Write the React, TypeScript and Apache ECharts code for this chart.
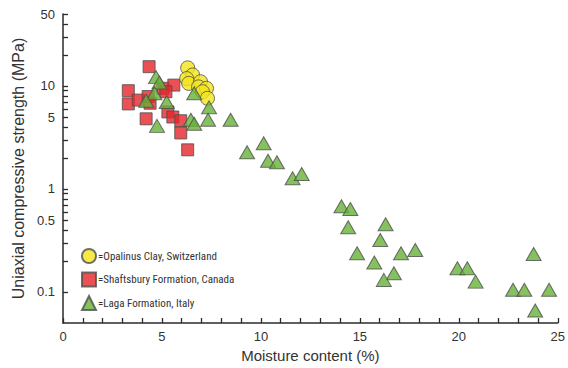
import React, { useEffect, useRef } from 'react';
import * as echarts from 'echarts';

// Moisture content (%), UCS (MPa)
const opalinusClay: [number, number][] = [
  [6.3, 15.0], [6.55, 12.8], [6.25, 11.8], [6.35, 10.6], [6.95, 11.0],
  [6.85, 9.8], [7.25, 9.5], [7.05, 8.8], [7.3, 7.6],
];
const shaftsburyFormation: [number, number][] = [
  [4.35, 15.4], [3.3, 9.0], [3.3, 6.7], [3.8, 7.3], [4.3, 7.9], [4.4, 6.8],
  [4.2, 4.8], [5.05, 9.5], [5.6, 10.2], [5.2, 8.8], [5.3, 5.6], [5.55, 5.0],
  [5.95, 4.6], [5.95, 3.5], [6.3, 2.4],
];
const lagaFormation: [number, number][] = [
  [4.7, 12.2], [4.87, 10.8], [4.62, 8.5], [4.2, 7.2], [5.24, 7.0], [4.75, 4.1],
  [6.63, 8.5], [7.38, 6.2], [6.46, 4.7], [6.63, 4.3], [7.33, 4.7], [8.47, 4.7],
  [10.14, 2.78], [9.3, 2.27], [10.36, 1.88], [10.81, 1.82], [11.6, 1.27], [12.06, 1.4],
  [14.07, 0.68], [14.52, 0.64], [14.41, 0.425], [16.3, 0.454], [16.03, 0.32],
  [14.86, 0.238], [15.73, 0.193], [17.08, 0.238], [17.8, 0.256], [16.72, 0.152],
  [16.21, 0.131], [23.78, 0.234], [19.93, 0.17], [20.43, 0.17], [20.85, 0.126],
  [22.74, 0.105], [23.31, 0.105], [24.56, 0.105], [23.86, 0.066],
];

const seriesNames = ['Opalinus Clay, Switzerland', 'Shaftsbury Formation, Canada', 'Laga Formation, Italy'];
const xTickLabels = [0, 5, 10, 15, 20, 25];
const yTickLabels = [0.1, 0.5, 1, 5, 10, 50];
const yTicks = [0.1, 0.2, 0.3, 0.4, 0.5, 0.6, 0.7, 0.8, 0.9, 1, 2, 3, 4, 5, 6, 7, 8, 9, 10, 20, 30, 40, 50];

export default function App() {
  const ref = useRef<HTMLDivElement>(null);
  useEffect(() => {
    if (!ref.current) return;
    const chart = echarts.init(ref.current, undefined, { renderer: 'svg' });
    const axisColor = '#2b2b2b';
    const font = "'Liberation Sans', Arial, sans-serif";
    const border = { borderColor: '#4d4d4d', borderWidth: 1 };
    chart.setOption({
      animation: false,
      backgroundColor: '#ffffff',
      grid: { left: 63, right: 7, top: 14, bottom: 45, containLabel: false },
      legend: {
        orient: 'vertical',
        left: 76,
        top: 243,
        itemWidth: 14,
        itemHeight: 14,
        itemGap: 7.5,
        formatter: (n: string) => '=' + n,
        textStyle: {
          fontFamily: "'Liberation Sans Narrow', 'Roboto Condensed', sans-serif",
          fontSize: 11,
          color: '#333',
          padding: [0, 0, 0, -3],
        },
        data: seriesNames,
      },
      xAxis: {
        type: 'value',
        min: 0,
        max: 25,
        interval: 1,
        name: 'Moisture content (%)',
        nameLocation: 'middle',
        nameGap: 24,
        nameTextStyle: { fontFamily: font, fontSize: 15, color: '#333' },
        axisLine: { show: true, lineStyle: { color: axisColor, width: 1.5 } },
        axisTick: { show: true, inside: true, length: 5, lineStyle: { color: axisColor, width: 1.3 } },
        axisLabel: {
          fontFamily: font,
          fontSize: 13,
          color: '#333',
          margin: 7,
          formatter: (v: number) => (xTickLabels.includes(v) ? String(v) : ''),
        },
        splitLine: { show: false },
      },
      yAxis: {
        type: 'log',
        logBase: 10,
        min: 0.05,
        max: 50,
        name: 'Uniaxial compressive strength (MPa)',
        nameLocation: 'middle',
        nameGap: 37,
        nameTextStyle: { fontFamily: font, fontSize: 16, color: '#333' },
        axisLine: { show: true, lineStyle: { color: axisColor, width: 1.5 } },
        axisTick: {
          show: true,
          inside: true,
          length: 5,
          customValues: yTicks,
          lineStyle: { color: axisColor, width: 1.3 },
        },
        axisLabel: {
          fontFamily: font,
          fontSize: 13,
          color: '#333',
          margin: 8,
          customValues: yTickLabels,
          formatter: (v: number) => String(v),
        },
        splitLine: { show: false },
      },
      series: [
        {
          name: seriesNames[0],
          type: 'scatter',
          symbol: 'circle',
          symbolSize: 14,
          itemStyle: { color: '#f4e51d', ...border },
          data: opalinusClay,
          z: 3,
        },
        {
          name: seriesNames[1],
          type: 'scatter',
          symbol: 'rect',
          symbolSize: 12,
          itemStyle: { color: '#e5252a', ...border },
          data: shaftsburyFormation,
          z: 2,
        },
        {
          name: seriesNames[2],
          type: 'scatter',
          symbol: 'triangle',
          symbolSize: [15, 13],
          itemStyle: { color: '#67b236', ...border },
          data: lagaFormation,
          z: 4,
        },
      ],
    });
    return () => chart.dispose();
  }, []);
  return (
    <div
      ref={ref}
      style={{ position: 'fixed', left: 0, top: 0, width: 568, height: 368 }}
    />
  );
}
